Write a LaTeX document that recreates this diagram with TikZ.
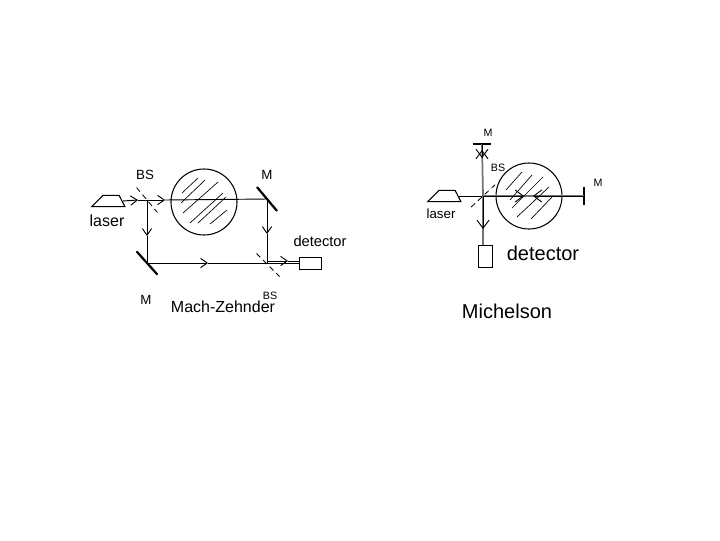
\documentclass[tikz,border=0pt]{standalone}
\usepackage{fontspec}
\setmainfont{Liberation Sans}
\usetikzlibrary{arrows.meta,shapes.geometric}

\begin{document}
\begin{tikzpicture}[
    x=0.75pt,y=-0.75pt,
    >={Straight Barb[length=5pt,width=7pt]},
    lasersrc/.style={draw,line width=0.8pt,trapezium,trapezium left angle=55,trapezium right angle=70,trapezium stretches=true,minimum width=25pt,minimum height=8.5pt,inner sep=1pt},
    phase/.style={draw,line width=0.8pt,circle,minimum size=49.5pt,inner sep=0pt},
    mirror/.style={draw,fill=black,minimum width=23pt,minimum height=1.2pt,inner sep=0pt},
    thinmirror/.style={draw,fill=black,minimum width=13pt,minimum height=0.8pt,inner sep=0pt},
    splitter/.style={minimum width=24pt,minimum height=1pt,inner sep=0pt,append after command={(\tikzlastnode.west) edge[line width=0.6pt,dash pattern=on 4pt off 3pt] (\tikzlastnode.east)}},
    sensor/.style={draw,line width=0.6pt,inner sep=0pt},
    beam/.style={line width=0.7pt},
    bigbeam/.style={line width=0.7pt,-{Straight Barb[length=6pt,width=9pt]}},
    wide/.style={line width=1.3pt,black!55},
    hatch/.style={line width=0.5pt},
    tag/.style={font=\fontsize{11}{11}\selectfont,inner sep=0pt},
    smalltag/.style={font=\fontsize{8}{8}\selectfont,inner sep=0pt}
  ]
    \useasboundingbox (0,0) rectangle (720,540);

    % Mach-Zehnder
    \node[lasersrc] (lasera) at (111,201) {};
    \node[phase] (phasea) at (204,202) {};
    \node[splitter,rotate=-50] (bsa) at (147,200) {};
    \node[splitter,rotate=-45] (bsb) at (268,265) {};
    \node[mirror,rotate=-50] (mirtop) at (267,199) {};
    \node[mirror,rotate=-48] (mirbot) at (147,263) {};
    \node[sensor,minimum width=16.5pt,minimum height=9pt] (deta) at (310,263) {};
    \coordinate (cross) at (267,263);
    \coordinate (split) at (267,261);
    \coordinate (arra) at (138,200);
    \coordinate (arrb) at (165,200);
    \coordinate (arrc) at (147,236);
    \coordinate (arrd) at (267,234);
    \coordinate (arre) at (208,263);
    \coordinate (arrf) at (288,261);

    \draw[beam,->] (lasera.east) -- (arra);
    \draw[beam,->] (arra) -- (arrb);
    \draw[beam] (arrb) -- (mirtop.center);
    \draw[beam,->] (bsa.center |- arra) -- (arrc);
    \draw[beam] (arrc) -- (mirbot.center);
    \draw[beam,->] (mirtop.center) -- (arrd);
    \draw[beam] (arrd) -- (cross);
    \draw[beam,->] (mirbot.center) -- (arre);
    \draw[beam] (arre) -- (cross);
    \draw[beam,->] (split) -- (arrf);
    \draw[beam] (arrf) -- (deta.west |- arrf);
    \draw[beam] (cross) -- (deta.west);

    \foreach \ax/\ay/\bx/\by in {182/193/198/178,181/203/205/180,183/213/218/182,190/223/223/193,198/223/226/197,210/224/227/210}
      \draw[hatch] (\ax,\ay) -- (\bx,\by);

    \node[smalltag,font=\fontsize{10}{10}\selectfont] (bsalabel) at (145,175) {BS};
    \node[smalltag,font=\fontsize{10}{10}\selectfont] (mlabela) at (267,175) {M};
    \node[tag,font=\fontsize{12}{12}\selectfont] (laseralabel) at (107,221) {laser};
    \node[tag] (detalabel) at (320,241) {detector};
    \node[smalltag,font=\fontsize{10}{10}\selectfont] (mlabelb) at (146,300) {M};
    \node[smalltag] (bsblabel) at (270,296) {BS};
    \node[tag,font=\fontsize{12}{12}\selectfont] (mzlabel) at (223,307) {Mach-Zehnder};

    % Michelson
    \node[lasersrc] (laserb) at (447,196) {};
    \node[phase] (phaseb) at (529,196) {};
    \node[splitter,rotate=43] (bsc) at (483,196) {};
    \node[thinmirror] (mirup) at (482,144) {};
    \node[thinmirror,rotate=90] (mirright) at (584,196) {};
    \node[sensor,minimum width=10.5pt,minimum height=16.5pt] (detb) at (485,256) {};
    \coordinate (arrg) at (482,158);
    \coordinate (arrh) at (483,229);
    \coordinate (arri) at (524,196);
    \coordinate (arrj) at (533,196);

    \draw[beam] (laserb.east) -- (bsc.center);
    \draw[wide] (bsc.center) -- (mirup.center);
    \draw[wide] (bsc.center) -- (mirright.center);
    \draw[wide] (bsc.center) -- (detb.north -| bsc.center);
    \draw[bigbeam] (bsc.center) -- (arrh);
    \draw[bigbeam] (mirup.center) -- (arrg);
    \draw[bigbeam] (arrg) -- (482,150);
    \draw[bigbeam] (bsc.center) -- (arri);
    \draw[bigbeam] (mirright.center) -- (arrj);

    \foreach \ax/\ay/\bx/\by in {506/190/522/172,510/200/532/175,512/208/543/177,517/217/549/187,531/219/552/197}
      \draw[hatch] (\ax,\ay) -- (\bx,\by);

    \node[smalltag] (mlabelc) at (488,133) {M};
    \node[smalltag] (bsclabel) at (498,168) {BS};
    \node[smalltag] (mlabeld) at (598,183) {M};
    \node[tag,font=\fontsize{10}{10}\selectfont] (laserblabel) at (441,214) {laser};
    \node[tag,font=\fontsize{15}{15}\selectfont] (detblabel) at (543,253) {detector};
    \node[tag,font=\fontsize{15}{15}\selectfont] (mblabel) at (507,311) {Michelson};
\end{tikzpicture}
\end{document}
